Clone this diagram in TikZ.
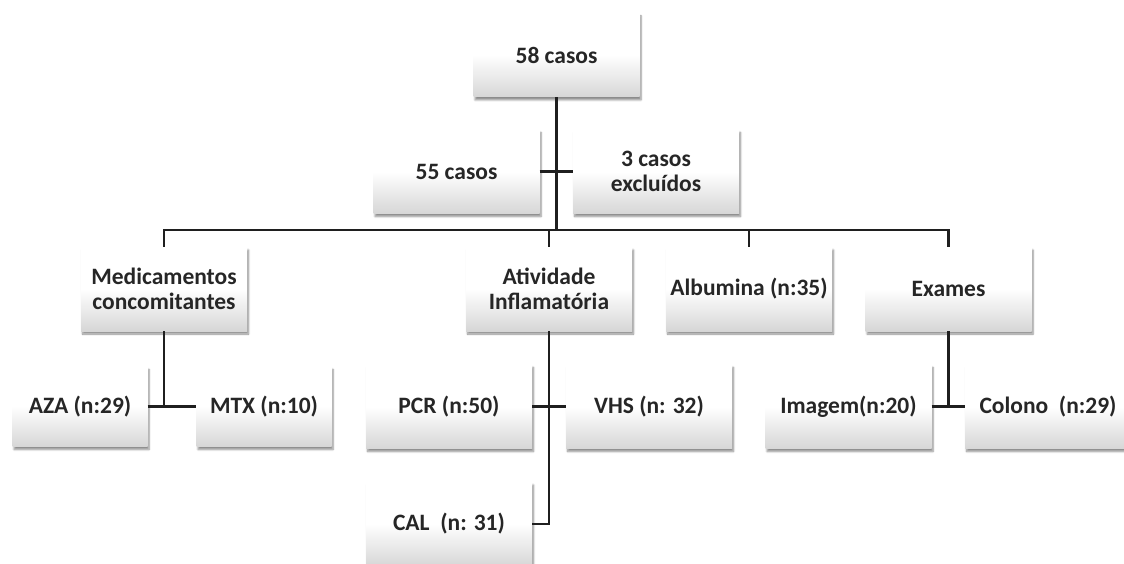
\documentclass[tikz,border=0pt]{standalone}
\usepackage{fontspec}
\setmainfont{Carlito}
\usetikzlibrary{shadows.blur}
\begin{document}
\begin{tikzpicture}[x=1pt,y=-1pt,
  box/.style={minimum width=166pt,minimum height=84pt,inner sep=2pt,
    align=center,text=black!85,font=\fontsize{23.5}{25}\selectfont\bfseries,
    top color=white,bottom color=black!16,middle color=white,
    blur shadow={shadow xshift=1.5pt,shadow yshift=-3pt,shadow blur steps=6,shadow opacity=45}},
  smallbox/.style={box,minimum width=135pt,minimum height=80pt},
  link/.style={line width=2.7pt,draw=black!88}]
\useasboundingbox (0,0) rectangle (1124,564);
\node[box] (top) at (556.5,55) {58 casos};
\node[box] (c55) at (456.5,171.5) {55 casos};
\node[box] (exc) at (656,171.5) {3 casos\\excluídos};
\node[box] (med) at (164,289) {Medicamentos\\concomitantes};
\node[box] (ativ) at (549,289) {Atividade\\Inflamatória};
\node[box] (alb) at (749,289) {Albumina (n:35)};
\node[box] (exa) at (948.5,289) {Exames};
\node[smallbox] (aza) at (80,406.5) {AZA (n:29)};
\node[smallbox] (mtx) at (264,406.5) {MTX (n:10)};
\node[box] (pcr) at (449,406.5) {PCR (n:50)};
\node[box] (vhs) at (649,406.5) {VHS (n: 32)};
\node[box] (img) at (848.5,406.5) {Imagem(n:20)};
\node[box] (col) at (1048,406.5) {Colono\ \ (n:29)};
\node[box] (cal) at (449,524) {CAL\ \ (n: 31)};
\coordinate (busL) at (164,230);
\coordinate (busR) at (948.5,230);
\draw[link] (top.south) -- (top.south |- busL);
\draw[link] (c55.east) -- (exc.west);
\draw[link] (med.north) -- (busL) -- (busR) -- (exa.north);
\draw[link] (ativ.north) -- (ativ.north |- busL);
\draw[link] (alb.north) -- (alb.north |- busL);
\draw[link] (med.south) -- (med.south |- aza.east);
\draw[link] (aza.east) -- (mtx.west);
\draw[link] (ativ.south) -- (ativ.south |- cal.east) -- (cal.east);
\draw[link] (pcr.east) -- (vhs.west);
\draw[link] (exa.south) -- (exa.south |- img.east);
\draw[link] (img.east) -- (col.west);
\end{tikzpicture}
\end{document}
